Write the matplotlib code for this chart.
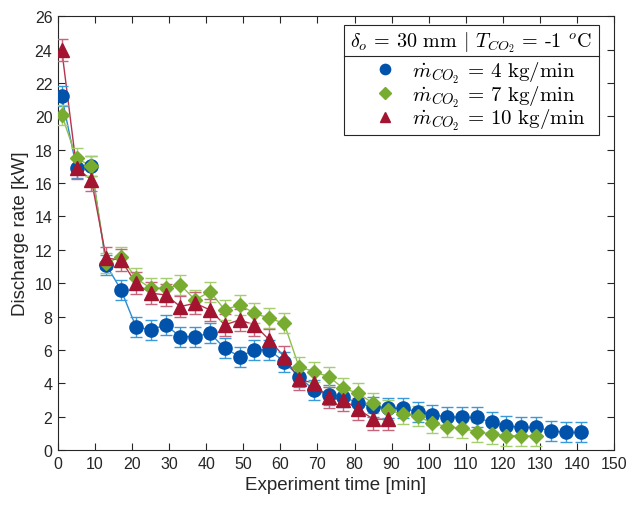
import matplotlib
matplotlib.use("Agg")
import matplotlib.pyplot as plt
from matplotlib.lines import Line2D
from matplotlib.patches import Rectangle

plt.rcParams["font.family"] = ["Liberation Sans", "DejaVu Sans"]
plt.rcParams["mathtext.fontset"] = "cm"

# discharge rate [kW] vs experiment time [min], one run per CO2 mass flow
time_4 = [1, 5, 9, 13, 17, 21, 25, 29, 33, 37, 41, 45, 49, 53, 57, 61, 65, 69,
          73, 77, 81, 85, 89, 93, 97, 101, 105, 109, 113, 117, 121, 125, 129,
          133, 137, 141]
rate_4 = [21.2, 16.9, 17.0, 11.1, 9.6, 7.4, 7.2, 7.5, 6.8, 6.8, 7.0, 6.1, 5.6,
          6.0, 6.0, 5.3, 4.4, 3.6, 3.3, 3.2, 2.8, 2.6, 2.5, 2.5, 2.3, 2.1, 2.0,
          1.95, 1.95, 1.65, 1.45, 1.35, 1.35, 1.15, 1.05, 1.05]

time_7 = [1, 5, 9, 13, 17, 21, 25, 29, 33, 37, 41, 45, 49, 53, 57, 61, 65, 69,
          73, 77, 81, 85, 89, 93, 97, 101, 105, 109, 113, 117, 121, 125, 129]
rate_7 = [20.1, 17.5, 17.0, 11.2, 11.6, 10.3, 9.7, 9.7, 9.9, 9.0, 9.5, 8.4,
          8.7, 8.2, 7.9, 7.6, 5.0, 4.7, 4.4, 3.7, 3.4, 2.8, 2.4, 2.15, 2.05,
          1.6, 1.4, 1.3, 1.1, 0.95, 0.85, 0.85, 0.82]

time_10 = [1, 5, 9, 13, 17, 21, 25, 29, 33, 37, 41, 45, 49, 53, 57, 61, 65,
           69, 73, 77, 81, 85, 89]
rate_10 = [24.0, 16.9, 16.2, 11.5, 11.4, 10.0, 9.4, 9.3, 8.6, 8.8, 8.4, 7.5,
           7.8, 7.5, 6.6, 5.6, 4.25, 4.0, 3.15, 3.0, 2.45, 1.85, 1.85]

err_4 = 0.6
err_7 = 0.6
err_10 = 0.65

series = [
    (time_4, rate_4, err_4, "o", "#0052aa", "#2a8ad4", "#3a9ad9", 9.5,
     r"$\dot{m}_{CO_2}$ = 4 kg/min"),
    (time_7, rate_7, err_7, "D", "#77ac30", "#8fbf4c", "#a5cf6e", 7.5,
     r"$\dot{m}_{CO_2}$ = 7 kg/min"),
    (time_10, rate_10, err_10, "^", "#a2142f", "#b8334c", "#c8647a", 9.5,
     r"$\dot{m}_{CO_2}$ = 10 kg/min"),
]
legend_title = r"$\delta_o$ = 30 mm $|$ $T_{CO_2}$ = -1 $^o$C"

W, H = 626, 506
fig = plt.figure(figsize=(W / 100, H / 100), dpi=100)
ax = fig.add_axes([0.0927, 0.1087, 0.888, 0.857])

handles = []
for t, y, e, mk, mcol, lcol, ecol, ms, label in series:
    ax.plot(t, y, color=lcol, lw=1.0, zorder=2)
    ax.errorbar(t, y, yerr=e, fmt="none", ecolor=ecol, elinewidth=1.0,
                capsize=4, capthick=1.0, zorder=3)
    ax.plot(t, y, ls="none", marker=mk, ms=ms, color=mcol, mec=mcol, zorder=4)
    handles.append(Line2D([], [], ls="none", marker=mk, ms=ms * 0.78,
                          color=mcol, label=label))

ax.set_xlim(0, 150)
ax.set_ylim(0, 26)
ax.set_xticks(range(0, 151, 10))
ax.set_yticks(range(0, 27, 2))
ax.tick_params(direction="in", top=True, right=True, length=5, width=0.8,
               labelsize=11.5, colors="#262626", pad=4)
for sp in ax.spines.values():
    sp.set_color("#262626")
    sp.set_linewidth(0.8)
ax.set_xlabel("Experiment time [min]", fontsize=13.5, color="#262626")
ax.set_ylabel("Discharge rate [kW]", fontsize=13.5, color="#262626")

# legend box in pixels (from top-left): frame, title row, entries
bx0, bx1, by0, by1, ysep = 344, 599, 26, 136, 57
ax.add_patch(Rectangle((bx0, H - by1), bx1 - bx0, by1 - by0, transform=None,
                       facecolor="white", edgecolor="#262626", lw=0.8,
                       zorder=4.5, clip_on=False))
ax.add_line(Line2D([bx0, bx1], [H - ysep, H - ysep], color="#262626", lw=0.8,
                   transform=None, zorder=4.6, clip_on=False))

fig.text(471 / W, 1 - 43 / H, legend_title, ha="center", va="center",
         fontsize=14.5, family="cmr10", color="black")

leg = ax.legend(handles=handles, loc="center left",
                bbox_to_anchor=(375 / W, 1 - 97 / H),
                bbox_transform=fig.transFigure, borderaxespad=0,
                frameon=False, fontsize=15, handletextpad=0.8,
                handlelength=1.0, labelspacing=-0.05, borderpad=0.0)
for txt in leg.get_texts():
    txt.set_fontfamily(["cmr10"])

fig.savefig("out.png", dpi=100)
